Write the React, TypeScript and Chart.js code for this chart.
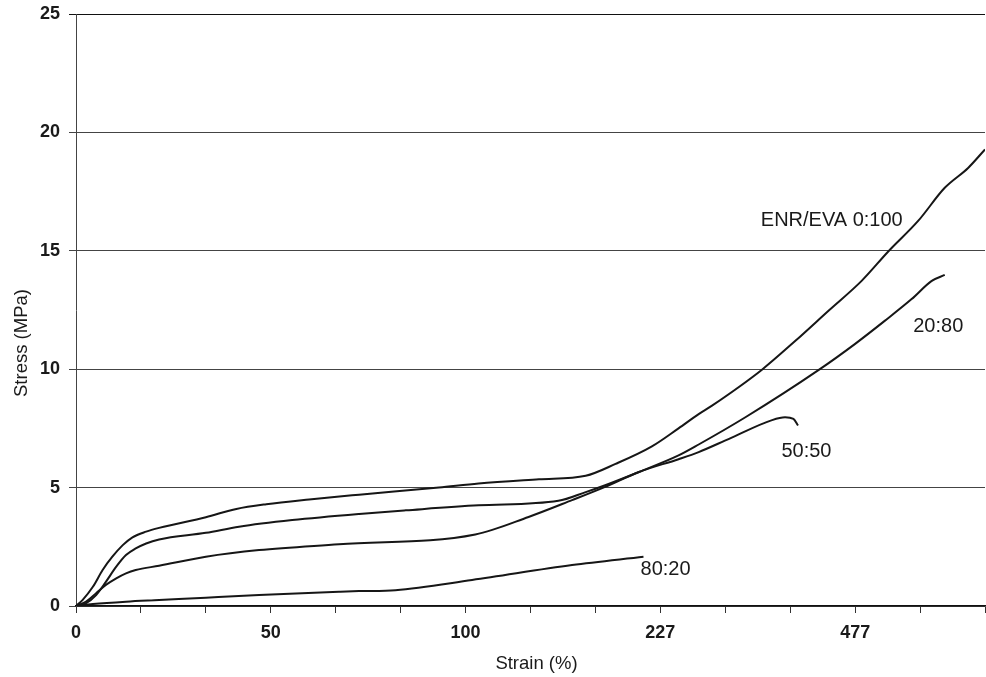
import React, { useEffect, useRef } from 'react';
import { Chart, registerables } from 'chart.js';

Chart.register(...registerables);

// x positions are in category-tick units of the original (non-linear) strain axis
const xTickPositions = [0, 3, 6, 9, 12];
const xTickLabels = ['0', '50', '100', '227', '477'];

const eva100X = [0, 0.1, 0.26, 0.41, 0.56, 0.72, 0.87, 1.08, 1.28, 2.0, 2.47, 2.93, 3.59, 4.36, 5.59, 6.2, 7.13, 7.85, 8.31, 8.87, 9.28, 9.59, 9.79, 10.56, 11.08, 11.59, 12.1, 12.51, 12.97, 13.38, 13.74, 14.0];
const eva100Y = [0, 0.25, 0.81, 1.52, 2.08, 2.57, 2.9, 3.14, 3.3, 3.75, 4.1, 4.3, 4.5, 4.7, 5.0, 5.17, 5.35, 5.5, 6.0, 6.74, 7.5, 8.1, 8.45, 9.97, 11.2, 12.47, 13.73, 14.97, 16.26, 17.66, 18.5, 19.28];

const enr20X = [0, 0.15, 0.31, 0.46, 0.62, 0.77, 0.92, 1.08, 1.28, 2.0, 2.51, 3.33, 4.36, 5.08, 6.2, 7.43, 7.85, 8.15, 8.67, 9.28, 9.59, 10.31, 11.44, 12.0, 12.46, 12.87, 13.18, 13.38];
const enr20Y = [0, 0.11, 0.46, 1.02, 1.66, 2.15, 2.43, 2.64, 2.81, 3.09, 3.35, 3.63, 3.89, 4.04, 4.25, 4.44, 4.81, 5.1, 5.66, 6.36, 6.82, 7.97, 9.97, 11.07, 12.05, 12.96, 13.73, 13.98];

const enr50X = [0, 0.15, 0.31, 0.46, 0.62, 0.77, 0.92, 1.28, 2.0, 2.82, 4.05, 6.15, 6.97, 7.64, 8.15, 8.67, 9.28, 9.59, 10.05, 10.72, 10.92, 11.05, 11.12];
const enr50Y = [0, 0.18, 0.54, 0.89, 1.17, 1.38, 1.52, 1.7, 2.08, 2.36, 2.61, 3.02, 3.76, 4.47, 5.03, 5.66, 6.2, 6.5, 7.05, 7.85, 7.97, 7.9, 7.62];

const enr80X = [0, 0.26, 0.77, 1.28, 2.0, 2.82, 4.05, 4.36, 4.92, 6.1, 7.64, 8.74];
const enr80Y = [0, 0.08, 0.18, 0.25, 0.35, 0.46, 0.6, 0.63, 0.67, 1.1, 1.73, 2.08];

const seriesNames = ['ENR/EVA 0:100', '20:80', '50:50', '80:20'];
const seriesLabelX = [11.64, 13.28, 11.25, 9.08];
const seriesLabelY = [16.3, 11.8, 6.53, 1.56];

const yTickValues = [0, 5, 10, 15, 20, 25];

const FONT = '"Liberation Sans", Arial, Helvetica, sans-serif';

export default function App() {
  const ref = useRef<HTMLCanvasElement | null>(null);

  useEffect(() => {
    if (!ref.current) return;
    const pts = (xs: number[], ys: number[]) => xs.map((x, i) => ({ x, y: ys[i] }));

    const curveLabels = {
      id: 'curveLabels',
      afterDatasetsDraw(chart: any) {
        const { ctx, scales } = chart;
        ctx.save();
        ctx.fillStyle = '#1a1a1a';
        ctx.font = `20px ${FONT}`;
        ctx.textAlign = 'center';
        ctx.textBaseline = 'middle';
        seriesNames.forEach((name, i) => {
          ctx.fillText(name, scales.x.getPixelForValue(seriesLabelX[i]), scales.y.getPixelForValue(seriesLabelY[i]));
        });
        ctx.restore();
      },
    };

    const axisTitles = {
      id: 'axisTitles',
      afterDraw(chart: any) {
        const { ctx, chartArea } = chart;
        ctx.save();
        ctx.fillStyle = '#1a1a1a';
        ctx.font = `18.5px ${FONT}`;
        ctx.textAlign = 'center';
        ctx.textBaseline = 'middle';
        ctx.fillText('Strain (%)', (chartArea.left + chartArea.right) / 2 + 6, 664);
        ctx.translate(22, 343);
        ctx.rotate(-Math.PI / 2);
        ctx.fillText('Stress (MPa)', 0, 0);
        ctx.restore();
      },
    };

    const line = (label: string, data: any[]) => ({
      label,
      data,
      borderColor: '#161616',
      borderWidth: 2,
      pointRadius: 0,
      fill: false,
      cubicInterpolationMode: 'monotone' as const,
    });

    const chart = new Chart(ref.current, {
      type: 'line',
      data: {
        datasets: [
          line(seriesNames[0], pts(eva100X, eva100Y)),
          line(seriesNames[1], pts(enr20X, enr20Y)),
          line(seriesNames[2], pts(enr50X, enr50Y)),
          line(seriesNames[3], pts(enr80X, enr80Y)),
        ],
      },
      options: {
        animation: false,
        responsive: false,
        devicePixelRatio: 1,
        layout: { padding: { left: 0, top: 14, right: 1, bottom: 0 } },
        plugins: { legend: { display: false }, tooltip: { enabled: false } },
        scales: {
          x: {
            type: 'linear',
            min: 0,
            max: 14,
            afterFit: (s: any) => { s.height = 71; s.paddingLeft = 0; s.paddingRight = 0; },
            ticks: {
              stepSize: 1,
              autoSkip: false,
              maxRotation: 0,
              padding: 9,
              color: '#1a1a1a',
              font: { family: FONT, size: 18, weight: 'bold' },
              callback: (v: any) => {
                const k = xTickPositions.indexOf(Number(v));
                return k >= 0 ? xTickLabels[k] : '';
              },
            },
            grid: { drawOnChartArea: false, drawTicks: true, tickLength: 7, color: '#333', lineWidth: 1 },
            border: { display: true, color: '#111', width: 1.5 },
          },
          y: {
            type: 'linear',
            min: 0,
            max: 25,
            afterFit: (s: any) => { s.width = 76; s.paddingTop = 0; s.paddingBottom = 0; },
            afterBuildTicks: (s: any) => { s.ticks = yTickValues.map((v) => ({ value: v })); },
            ticks: {
              padding: 9,
              color: '#1a1a1a',
              font: { family: FONT, size: 18, weight: 'bold' },
            },
            grid: {
              tickLength: 7,
              color: (c: any) => (c.tick && c.tick.value === 25 ? '#111' : '#444'),
              lineWidth: 1,
            },
            border: { display: true, color: '#444', width: 1 },
          },
        },
      },
      plugins: [curveLabels, axisTitles],
    } as any);

    return () => chart.destroy();
  }, []);

  return (
    <div style={{ position: 'fixed', left: 0, top: 0, width: 986, height: 677, background: '#fff' }}>
      <canvas ref={ref} width={986} height={677} style={{ display: 'block' }} />
    </div>
  );
}
